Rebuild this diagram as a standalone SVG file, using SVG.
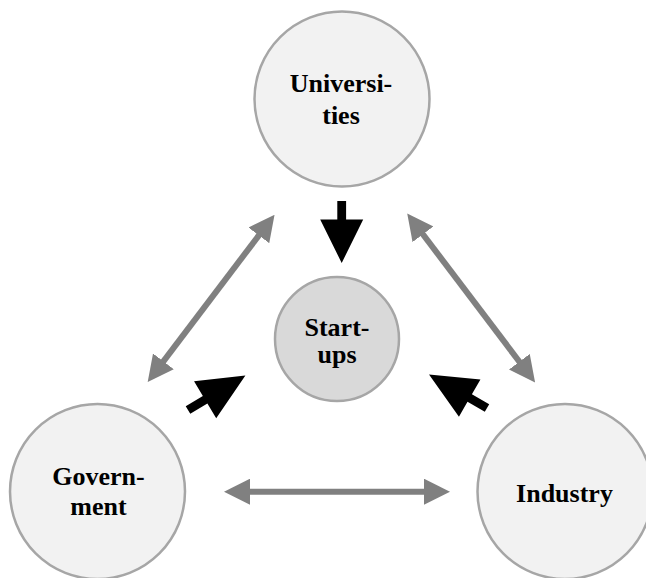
<svg xmlns="http://www.w3.org/2000/svg" width="646" height="578" viewBox="0 0 646 578">
  <style>
    .node { fill: #f2f2f2; stroke: #a6a6a6; stroke-width: 2.5; }
    .core { fill: #d9d9d9; stroke: #a6a6a6; stroke-width: 2.5; }
    .label { font-family: "Liberation Serif", "Times New Roman", serif; font-weight: bold; font-size: 26px; fill: #000; text-anchor: middle; }
    .link { stroke: #808080; stroke-width: 6; fill: none; marker-start: url(#gh); marker-end: url(#gh); }
    .push { fill: #000; }
  </style>
  <defs>
    <!-- grey arrowhead for two-way links; tip lies 20px past the line end -->
    <marker id="gh" markerUnits="userSpaceOnUse" markerWidth="26" markerHeight="26" viewBox="0 0 26 26" refX="6" refY="13" orient="auto-start-reverse">
      <path d="M0,0 L26,13 L0,26 z" fill="#808080"/>
    </marker>
    <!-- block arrow pointing along +x, tail at origin -->
    <path id="blk" d="M0,-4.4 L18.5,-4.4 L18.5,-21.5 L62,0 L18.5,21.5 L18.5,4.4 L0,4.4 z"/>
  </defs>

  <g id="connectors">
    <!-- Universities <-> Government -->
    <line class="link" x1="262.5" y1="230.6" x2="159.8" y2="366.1"/>
    <!-- Universities <-> Industry -->
    <line class="link" x1="419.3" y1="229.5" x2="523.0" y2="366.5"/>
    <!-- Government <-> Industry -->
    <line class="link" x1="244" y1="491.7" x2="430" y2="491.7"/>
    <!-- flows into Start-ups -->
    <use href="#blk" class="push" transform="translate(341.7,201) rotate(90)"/>
    <use href="#blk" class="push" transform="translate(188,410) rotate(-31) scale(1.08,1)"/>
    <use href="#blk" class="push" transform="translate(487,408) rotate(-150) scale(1.08,1)"/>
  </g>

  <g id="universities">
    <circle class="node" cx="342" cy="99" r="87.5"/>
    <text class="label" x="341" y="92">Universi-</text>
    <text class="label" x="341" y="124">ties</text>
  </g>

  <g id="startups">
    <circle class="core" cx="337" cy="339" r="62"/>
    <text class="label" x="337" y="336">Start-</text>
    <text class="label" x="337" y="363">ups</text>
  </g>

  <g id="government">
    <circle class="node" cx="97.5" cy="491.5" r="87.5"/>
    <text class="label" x="98.5" y="485">Govern-</text>
    <text class="label" x="98.5" y="515">ment</text>
  </g>

  <g id="industry">
    <circle class="node" cx="565" cy="491.5" r="87.5"/>
    <text class="label" x="564.5" y="502">Industry</text>
  </g>
</svg>
